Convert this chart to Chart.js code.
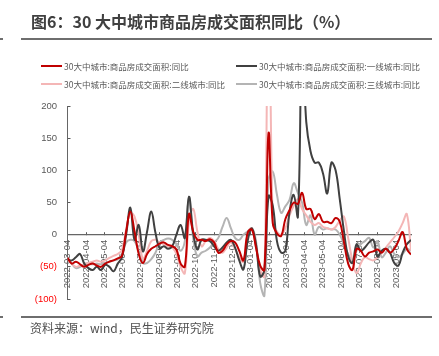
<!DOCTYPE html>
<html>
<head>
<meta charset="utf-8">
<script src="https://cdn.jsdelivr.net/npm/chart.js@4.4.1/dist/chart.umd.min.js"></script>
<style>
  html, body { margin: 0; padding: 0; background: #fff; }
  body { width: 439px; height: 356px; position: relative; overflow: hidden;
         font-family: "Noto Sans CJK SC", "Liberation Sans", sans-serif; }
  #c { position: absolute; left: 0; top: 0; }
  .abs { position: absolute; white-space: nowrap; }
  #title { left: 31px; top: 11px; font-size: 16px; font-weight: bold; color: #404040; line-height: 20px; }
  .rule { position: absolute; height: 2px; background: #6e6e6e; }
  .leg { position: absolute; font-size: 8.5px; color: #595959; line-height: 12px; display: flex; align-items: center; }
  .leg i { display: inline-block; width: 21px; height: 2px; margin-right: 2px; }
  #foot { left: 30px; top: 320px; font-size: 12px; color: #505050; line-height: 16px; }
</style>
</head>
<body>
<canvas id="c" width="439" height="356"></canvas>
<div id="title" class="abs">图6：30 大中城市商品房成交面积同比（%）</div>
<div class="rule" style="left:0;top:38px;width:3px;"></div>
<div class="rule" style="left:21px;top:38px;width:411px;"></div>
<div id="legend"></div>
<div class="rule" style="left:0;top:316px;width:3px;"></div>
<div class="rule" style="left:21px;top:316px;width:411px;"></div>
<div id="foot" class="abs">资料来源：wind，民生证券研究院</div>
<script>
// ---- data ----
const dates = [
 "2022-03-04","2022-03-11","2022-03-18","2022-03-25","2022-04-01","2022-04-08","2022-04-15","2022-04-22","2022-04-29",
 "2022-05-06","2022-05-13","2022-05-20","2022-05-27","2022-06-03","2022-06-10","2022-06-17","2022-06-24",
 "2022-07-01","2022-07-08","2022-07-15","2022-07-22","2022-07-29","2022-08-05","2022-08-12","2022-08-19","2022-08-26",
 "2022-09-02","2022-09-09","2022-09-16","2022-09-23","2022-09-30","2022-10-07","2022-10-14","2022-10-21","2022-10-28",
 "2022-11-04","2022-11-11","2022-11-18","2022-11-25","2022-12-02","2022-12-09","2022-12-16","2022-12-23","2022-12-30",
 "2023-01-06","2023-01-13","2023-01-20","2023-01-27","2023-02-03","2023-02-10","2023-02-17","2023-02-24",
 "2023-03-03","2023-03-10","2023-03-17","2023-03-24","2023-03-31","2023-04-07","2023-04-14","2023-04-21","2023-04-28",
 "2023-05-05","2023-05-12","2023-05-19","2023-05-26","2023-06-02","2023-06-09","2023-06-16","2023-06-23","2023-06-30",
 "2023-07-07","2023-07-14","2023-07-21","2023-07-28","2023-08-04","2023-08-11","2023-08-18","2023-08-25",
 "2023-09-01","2023-09-08","2023-09-15","2023-09-22","2023-09-29"
];
const total = [
 -36,-45,-42,-46,-50,-47,-45,-48,-50,-45,-42,-40,-37,-33,5,36,5,-30,-44,-30,-22,-18,-14,-12,-16,-18,
 -23,-45,-50,32,5,-8,-8,-10,-7,-12,-28,-25,-15,-10,-12,-25,-40,3,8,-20,-48,-55,158,18,2,-2,
 24,38,50,48,65,40,40,24,32,20,20,18,26,20,-12,-45,-55,-22,-25,-34,-28,-26,-23,-28,-22,-28,
 -22,-10,4,-22,-31
];
const tier1 = [
 -38,-40,-35,-30,-45,-52,-55,-50,-55,-47,-50,-57,-45,-35,0,42,-8,15,-26,5,36,3,-21,-18,-22,-18,
 0,15,-5,59,3,-23,-8,-8,-10,-18,-25,-20,-12,-8,-20,-40,-54,-10,10,-15,-65,-55,60,45,-10,-28,
 -25,35,62,28,300,175,130,112,112,95,64,112,100,55,5,-34,-44,-15,-25,-20,-12,-8,-34,-25,-22,-28,
 -44,-48,-28,-15,-8
];
const tier2 = [
 -38,-45,-50,-48,-46,-44,-42,-40,-42,-40,-36,-33,-30,-24,8,34,28,0,-38,-25,-10,-8,-12,-15,-18,-20,
 -30,-50,-60,20,40,5,-18,-10,-5,-10,-22,-28,-20,-12,-22,-35,-42,0,10,-20,-55,-65,450,20,5,0,
 10,30,45,55,40,30,20,15,18,12,10,8,12,22,28,-5,-40,-60,-45,-35,-38,-40,-35,-28,-20,-12,
 -4,5,18,32,-25,-45
];
const tier3 = [
 -35,-45,-52,-50,-47,-45,-46,-45,-46,-44,-42,-40,-38,-30,-12,-8,-10,-25,-44,-44,-38,-28,-12,-8,-6,-8,
 -15,-25,-10,57,-5,-34,-28,-25,-20,-12,-5,12,26,10,-5,-8,0,5,10,-10,-75,-95,85,98,62,34,
 44,54,80,65,50,15,30,0,12,8,10,8,8,0,-15,-30,-40,-25,-15,-10,-5,-20,-10,-35,-28,-18,
 -30,-35,-30,-22,-25
];
const seriesNames = [
 "30大中城市:商品房成交面积:同比",
 "30大中城市:商品房成交面积:一线城市:同比",
 "30大中城市:商品房成交面积:二线城市:同比",
 "30大中城市:商品房成交面积:三线城市:同比"
];
const seriesColors = ["#c00000", "#404040", "#f4b6b6", "#b4b4b4"];
const xTickLabels = [
 "2022-03-04","2022-04-04","2022-05-04","2022-06-04","2022-07-04","2022-08-04","2022-09-04","2022-10-04",
 "2022-11-04","2022-12-04","2023-01-04","2023-02-04","2023-03-04","2023-04-04","2023-05-04","2023-06-04",
 "2023-07-04","2023-08-04","2023-09-04"
];
const yTicks = [-100, -50, 0, 50, 100, 150, 200];

// ---- helpers ----
function dayOf(s) {
  const p = s.split("-").map(Number);
  return (Date.UTC(p[0], p[1] - 1, p[2]) - Date.UTC(2022, 2, 4)) / 86400000;
}
const xDays = dates.map(dayOf);
const tickDays = xTickLabels.map(dayOf);
const allSeries = [total, tier1, tier2, tier3];

// legend
const legPos = [[41, 60], [236, 60], [41, 78], [236, 78]];
const legEl = document.getElementById("legend");
seriesNames.forEach((n, k) => {
  const d = document.createElement("div");
  d.className = "leg";
  d.style.left = legPos[k][0] + "px";
  d.style.top = legPos[k][1] + "px";
  d.innerHTML = '<i style="background:' + seriesColors[k] + '"></i>' + n;
  legEl.appendChild(d);
});

const axisColor = "#595959";
const tickFont = { family: "'Liberation Sans', 'Noto Sans CJK SC', sans-serif", size: 9.5 };

new Chart(document.getElementById("c"), {
  type: "line",
  data: {
    datasets: allSeries.map((vals, k) => ({
      label: seriesNames[k],
      data: vals.map((v, i) => ({ x: xDays[i], y: v })),
      borderColor: seriesColors[k],
      borderWidth: 2,
      pointRadius: 0,
      tension: 0.4,
      fill: false
    }))
  },
  options: {
    responsive: false,
    devicePixelRatio: 1,
    animation: false,
    events: [],
    layout: { padding: { left: 27.5, top: 106, right: 28, bottom: 57 } },
    plugins: { legend: { display: false }, tooltip: { enabled: false } },
    scales: {
      x: {
        type: "linear",
        min: 0,
        max: dayOf("2023-09-29"),
        position: { y: 0 },
        afterBuildTicks: s => { s.ticks = tickDays.map(v => ({ value: v })); },
        afterFit: s => { s.height = 0; },
        ticks: {
          autoSkip: false, minRotation: 90, maxRotation: 90,
          callback: (v, i) => xTickLabels[i],
          color: axisColor, font: tickFont, padding: 8
        },
        grid: { display: true, drawOnChartArea: false, drawTicks: true, tickLength: -3, color: axisColor, tickColor: axisColor },
        border: { display: true, color: "#666", width: 1.2 }
      },
      y: {
        min: -100, max: 200,
        afterBuildTicks: s => { s.ticks = yTicks.map(v => ({ value: v })); },
        afterFit: s => { s.width = 40; },
        ticks: {
          callback: v => v < 0 ? "(" + (-v) + ")" : String(v),
          color: ctx => (ctx.tick && ctx.tick.value < 0) ? "#ff0000" : axisColor,
          font: tickFont, padding: 13.5
        },
        grid: { display: true, drawOnChartArea: false, drawTicks: true, tickLength: -3, color: axisColor, tickColor: axisColor },
        border: { display: true, color: "#666", width: 1 }
      }
    }
  }
});
</script>
</body>
</html>
